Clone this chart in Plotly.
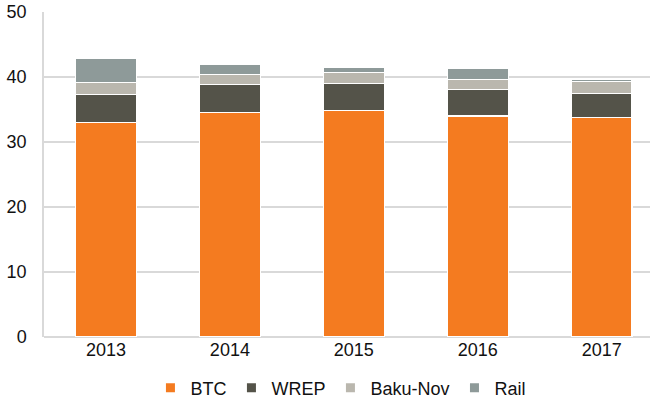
import plotly.graph_objects as go

years = ["2013", "2014", "2015", "2016", "2017"]
btc = [33.0, 34.6, 34.8, 34.0, 33.8]
wrep = [4.3, 4.3, 4.2, 4.1, 3.7]
baku_nov = [1.8, 1.5, 1.7, 1.5, 1.8]
rail = [3.8, 1.6, 0.8, 1.7, 0.3]

series = [
    ("BTC", btc, "#F47B20"),
    ("WREP", wrep, "#545349"),
    ("Baku-Nov", baku_nov, "#BAB7AE"),
    ("Rail", rail, "#8E9A99"),
]

fig = go.Figure()
for name, vals, color in series:
    fig.add_trace(go.Bar(
        x=years, y=vals, name=name, showlegend=False,
        marker=dict(color=color, line=dict(color="white", width=1.2)),
        width=0.49,
    ))
# legend entries with small square markers
for name, vals, color in series:
    fig.add_trace(go.Scatter(
        x=[None], y=[None], name=name, mode="markers",
        marker=dict(symbol="square", size=9, color=color),
    ))

fig.update_layout(
    barmode="stack",
    width=658, height=400,
    margin=dict(l=44, r=8, t=12, b=63, autoexpand=False),
    plot_bgcolor="white", paper_bgcolor="white",
    font=dict(family="Liberation Sans, Arial, sans-serif", size=18, color="#111111"),
    showlegend=True,
    legend=dict(orientation="h", x=0.49, xanchor="center", y=-0.157, yanchor="middle",
                font=dict(size=18), itemwidth=30, traceorder="normal"),
    xaxis=dict(range=[-0.5, 4.39], showline=False, ticks="", tickfont=dict(size=18),
               automargin=False),
    yaxis=dict(range=[0, 50], dtick=10, showgrid=True, gridcolor="#D9D9D9", gridwidth=1.5,
               showline=True, linecolor="#D9D9D9", linewidth=1.5, zeroline=True,
               zerolinecolor="#D9D9D9", zerolinewidth=1.5, ticks="", tickfont=dict(size=18),
               ticklabelstandoff=12, automargin=False),
)

fig.write_html("out.html", config={"displayModeBar": False},
               post_script="document.body.style.margin='0';document.body.style.overflow='hidden';")
